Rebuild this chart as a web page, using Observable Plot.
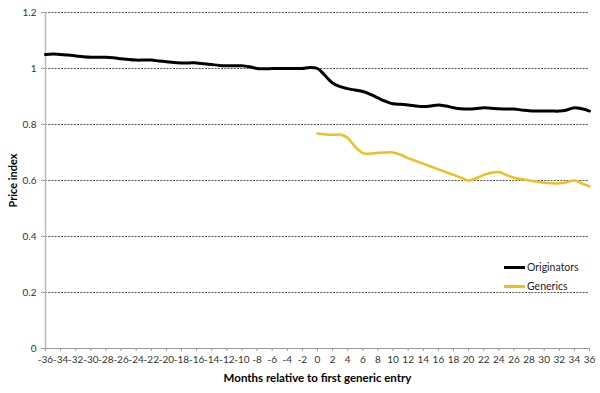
<!DOCTYPE html>
<html>
<head>
<meta charset="utf-8">
<script src="https://cdn.jsdelivr.net/npm/d3@7"></script>
<script src="https://cdn.jsdelivr.net/npm/@observablehq/plot@0.6"></script>
<style>
  html, body { margin: 0; padding: 0; background: #fff; }
  #wrap { position: relative; width: 600px; height: 393px; font-family: Lato, "Open Sans", sans-serif; }
  #wrap svg text { font-family: Lato, "Open Sans", sans-serif; }
  [aria-label="x-axis label"] text, [aria-label="y-axis label"] text { font-weight: bold; font-size: 11.5px; fill: #000; }
  [aria-label="y-axis label"] text { font-size: 11px; }
  .legend { position: absolute; left: 504px; font-size: 10.5px; color: #222; display: flex; align-items: center; }
  .legend span.sw { display: inline-block; width: 21px; height: 3px; margin-right: 2px; }
</style>
</head>
<body>
<div id="wrap"></div>
<script>
const origMonths = [-36,-35,-34,-33,-32,-31,-30,-29,-28,-27,-26,-25,-24,-23,-22,-21,-20,-19,-18,-17,-16,-15,-14,-13,-12,-11,-10,-9,-8,-7,-6,-5,-4,-3,-2,-1,0,1,2,3,4,5,6,7,8,9,10,11,12,13,14,15,16,17,18,19,20,21,22,23,24,25,26,27,28,29,30,31,32,33,34,35,36];
const originators = [1.05,1.052,1.05,1.048,1.045,1.042,1.04,1.04,1.04,1.038,1.035,1.032,1.03,1.03,1.03,1.027,1.024,1.021,1.02,1.02,1.02,1.017,1.014,1.011,1.01,1.01,1.01,1.006,1.0,0.999,1.0,1.0,1.0,1.0,1.0,1.004,1.0,0.975,0.948,0.935,0.928,0.923,0.918,0.908,0.895,0.883,0.874,0.872,0.87,0.866,0.864,0.866,0.87,0.866,0.86,0.856,0.855,0.857,0.86,0.858,0.856,0.855,0.855,0.852,0.849,0.848,0.848,0.848,0.848,0.852,0.86,0.856,0.848];
const genMonths = [0,1,2,3,4,5,6,7,8,9,10,11,12,13,14,15,16,17,18,19,20,21,22,23,24,25,26,27,28,29,30,31,32,33,34,35,36];
const generics = [0.768,0.765,0.763,0.764,0.752,0.72,0.698,0.696,0.699,0.70,0.70,0.692,0.68,0.67,0.66,0.65,0.64,0.63,0.62,0.61,0.60,0.608,0.62,0.628,0.63,0.62,0.61,0.605,0.60,0.596,0.592,0.59,0.59,0.594,0.60,0.59,0.579];
const xTicks = [-36,-34,-32,-30,-28,-26,-24,-22,-20,-18,-16,-14,-12,-10,-8,-6,-4,-2,0,2,4,6,8,10,12,14,16,18,20,22,24,26,28,30,32,34,36];
const yTicks = [0,0.2,0.4,0.6,0.8,1,1.2];
const gridTicks = [0.2,0.4,0.6,0.8,1,1.2];
const seriesNames = ["Originators","Generics"];
const seriesColors = ["#000000","#F0BE1E"];

const origData = origMonths.map((m,i) => ({month: m, value: originators[i]}));
const genData = genMonths.map((m,i) => ({month: m, value: generics[i]}));

const chart = Plot.plot({
  width: 600,
  height: 393,
  marginLeft: 45,
  marginRight: 11,
  marginTop: 12,
  marginBottom: 45,
  style: {fontSize: "10px", color: "#333", background: "#fff"},
  x: {domain: [-36, 36]},
  y: {domain: [0, 1.2]},
  marks: [
    Plot.gridY(gridTicks, {stroke: "#555", strokeOpacity: 1, strokeDasharray: "2,1.2", strokeWidth: 1}),
    Plot.axisY(yTicks, {tickSize: 4, tickPadding: 5, stroke: "#999", tickFormat: d => String(d), label: "Price index", labelAnchor: "center", labelArrow: "none", labelOffset: 36, fontSize: 10}),
    Plot.axisX(xTicks, {tickSize: 3, tickPadding: 4, stroke: "#999", tickFormat: d => String(d), label: "Months relative to first generic entry", labelAnchor: "center", labelArrow: "none", labelOffset: 33, fontSize: 10}),
    Plot.ruleY([0], {stroke: "#999"}),
    Plot.ruleX([-36], {stroke: "#bbb", strokeWidth: 1.5}),
    Plot.line(origData, {x: "month", y: "value", stroke: seriesColors[0], strokeWidth: 3, curve: "catmull-rom"}),
    Plot.line(genData, {x: "month", y: "value", stroke: seriesColors[1], strokeWidth: 2.5, curve: "catmull-rom"})
  ]
});
const wrap = document.getElementById("wrap");
wrap.appendChild(chart);
seriesNames.forEach((name, i) => {
  const d = document.createElement("div");
  d.className = "legend";
  d.style.top = (261 + i * 19) + "px";
  d.innerHTML = `<span class="sw" style="background:${seriesColors[i]}"></span>${name}`;
  wrap.appendChild(d);
});
</script>
</body>
</html>
